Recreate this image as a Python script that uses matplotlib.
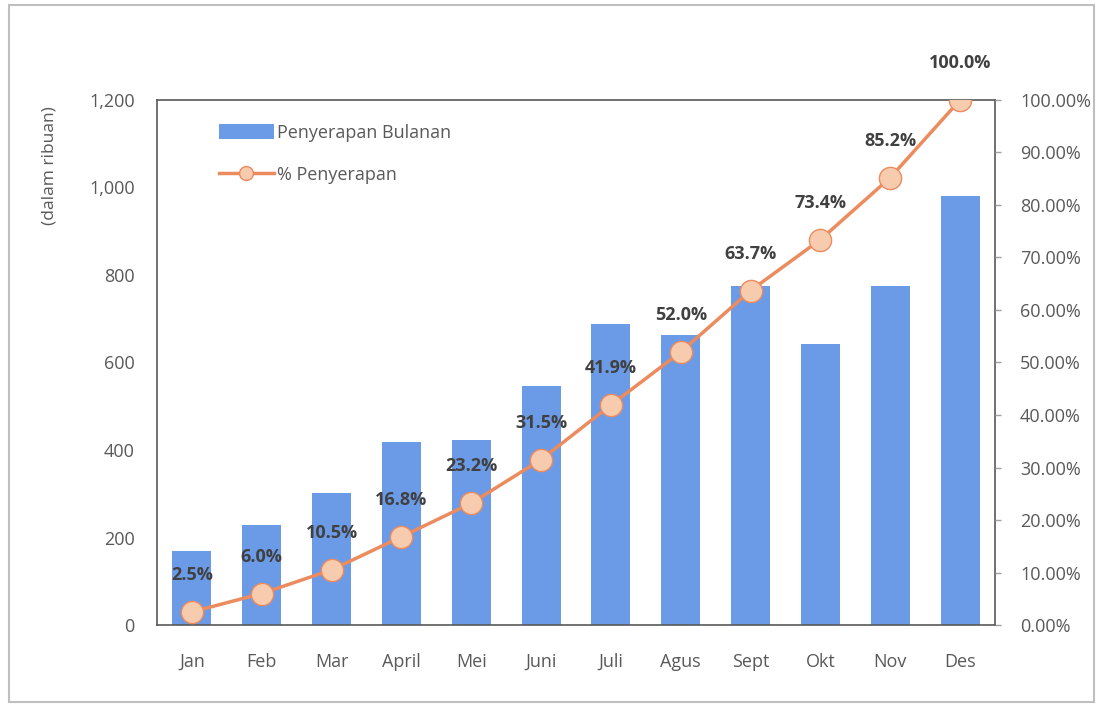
import matplotlib.pyplot as plt
from matplotlib.patches import Rectangle
from matplotlib.ticker import FuncFormatter, PercentFormatter

months = ["Jan", "Feb", "Mar", "April", "Mei", "Juni", "Juli", "Agus", "Sept", "Okt", "Nov", "Des"]
monthly = [169, 229, 302, 418, 423, 546, 688, 663, 775, 642, 775, 981]
cumulative_pct = [2.5, 6.0, 10.5, 16.8, 23.2, 31.5, 41.9, 52.0, 63.7, 73.4, 85.2, 100.0]

bar_color = "#6B9BE6"
line_color = "#EC8B5E"
marker_fill = "#F7CBAE"
text_color = "#595959"

plt.rcParams['font.family'] = ['Open Sans', 'DejaVu Sans']

fig = plt.figure(figsize=(11.01, 7.06), dpi=100)
ax = fig.add_axes([0.1426, 0.1147, 0.7611, 0.7437])
x = list(range(len(months)))

bars = ax.bar(x, monthly, width=0.56, color=bar_color, label="Penyerapan Bulanan", zorder=2)
ax.set_xlim(-0.5, 11.5)
ax.set_ylim(0, 1200)
ax.set_yticks(range(0, 1201, 200))
ax.yaxis.set_major_formatter(FuncFormatter(lambda v, p: f"{int(v):,}"))
ax.set_xticks(x)
ax.set_xticklabels(months)
ax.tick_params(axis='both', length=0, labelsize=13, colors=text_color)
ax.tick_params(axis='x', pad=20)
ax.tick_params(axis='y', pad=16)
for s in ax.spines.values():
    s.set_color("#595959")
    s.set_linewidth(1.2)

ax2 = ax.twinx()
line, = ax2.plot(x, cumulative_pct, color=line_color, lw=2.5, marker='o', ms=16,
                 markerfacecolor=marker_fill, markeredgecolor=line_color, markeredgewidth=1,
                 label="% Penyerapan", zorder=3)
ax2.set_ylim(0, 100)
ax2.set_yticks(range(0, 101, 10))
ax2.yaxis.set_major_formatter(PercentFormatter(decimals=2))
ax2.tick_params(axis='y', length=4, width=1, labelsize=13, colors=text_color, pad=14)
ax2.tick_params(axis='y', color="#a0a0a0")
for s in ax2.spines.values():
    s.set_visible(False)

for xi, v in zip(x, cumulative_pct):
    ax2.annotate(f"{v:.1f}%", (xi, v), xytext=(0, 20), textcoords='offset points',
                 ha='center', va='bottom', fontsize=13, fontweight='bold', color="#404040")

leg = ax.legend([bars, line], ["Penyerapan Bulanan", "% Penyerapan"], loc='upper left',
                bbox_to_anchor=(0.055, 0.985), frameon=False, fontsize=13, labelcolor=text_color,
                handlelength=3.0, handleheight=0.9, handletextpad=0.2, labelspacing=1.3)
for h in leg.legend_handles:
    if hasattr(h, 'set_markersize'):
        h.set_markersize(10)

fig.text(0.045, 0.765, "(dalam ribuan)", rotation=90, ha='center', va='center',
         fontsize=12.5, color=text_color)

fig.patches.append(Rectangle((0.008, 0.005), 0.986, 0.988, transform=fig.transFigure,
                             fill=False, edgecolor="#bfbfbf", lw=1.5))

fig.savefig("out.png", dpi=100)
